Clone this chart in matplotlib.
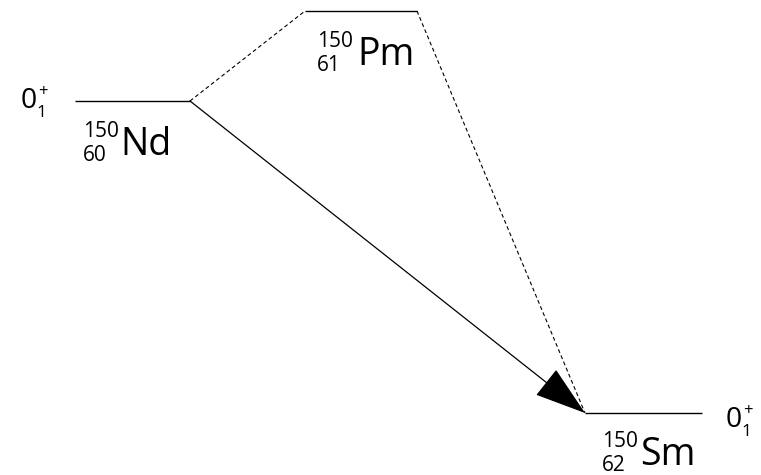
import matplotlib
matplotlib.use("Agg")
import matplotlib.pyplot as plt
from matplotlib.patches import FancyArrowPatch

plt.rcParams['font.family'] = ['Open Sans', 'DejaVu Sans']

# Level scheme data (diagram units)
nuclei = ["Nd", "Pm", "Sm"]
mass_numbers = ["150", "150", "150"]
atomic_numbers = ["60", "61", "62"]
level_x_start = [75, 305, 585]
level_x_end = [190, 417, 702]
level_energy = [374, 464, 62]
spin_labels = ["0", None, "0"]
spin_sub = ["1", None, "1"]
spin_parity = ["+", None, "+"]

fig = plt.figure(figsize=(7.61, 4.75), dpi=100)
ax = fig.add_axes([0, 0, 1, 1])
ax.set_xlim(0, 761)
ax.set_ylim(0, 475)
ax.axis('off')

# levels
for xs, xe, e in zip(level_x_start, level_x_end, level_energy):
    ax.plot([xs, xe], [e, e], color='black', lw=1.0, solid_capstyle='butt')

# dashed transitions via Pm
ax.plot([level_x_end[0], level_x_start[1]], [level_energy[0], level_energy[1]],
        color='black', lw=0.8, ls=(0, (3.5, 2.5)))
ax.plot([level_x_end[1], level_x_start[2]], [level_energy[1], level_energy[2]],
        color='black', lw=0.8, ls=(0, (3.5, 2.5)))

# direct double-beta arrow
arr = FancyArrowPatch((level_x_end[0], level_energy[0]), (level_x_start[2], level_energy[2]),
                      arrowstyle='-|>,head_length=2.8,head_width=0.9', mutation_scale=12,
                      color='black', lw=0.9, shrinkA=0, shrinkB=0)
ax.add_patch(arr)

# nucleus labels
label_offsets = [(8, -54), (12, -54), (17, -52)]
name_dx = [37, 40, 38]
for i, (A, Z, name) in enumerate(zip(mass_numbers, atomic_numbers, nuclei)):
    x0 = level_x_start[i] + label_offsets[i][0]
    yb = level_energy[i] + label_offsets[i][1]
    ax.text(x0, yb + 18, A, fontsize=15, ha='left', va='baseline')
    ax.text(x0, yb - 6, Z, fontsize=15, ha='left', va='baseline')
    ax.text(x0 + name_dx[i], yb, name, fontsize=27, ha='left', va='baseline')

# spin-parity labels
spin_x = [21, None, 726]
spin_dy = [-7, None, -14]
for i, s in enumerate(spin_labels):
    if s is None:
        continue
    x0 = spin_x[i]
    yb = level_energy[i] + spin_dy[i]
    ax.text(x0, yb, s, fontsize=20.5, ha='left', va='baseline')
    ax.text(x0 + 15, yb - 9, spin_sub[i], fontsize=12.5, ha='left', va='baseline')
    ax.text(x0 + 17, yb + 12, spin_parity[i], fontsize=12, ha='left', va='baseline')

fig.savefig("out.png", dpi=100)
